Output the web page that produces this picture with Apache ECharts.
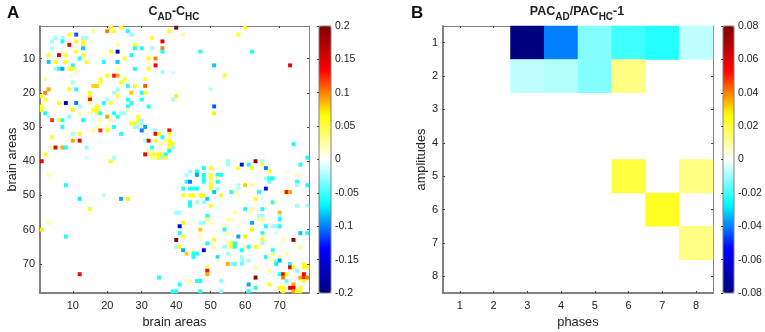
<!DOCTYPE html>
<html><head><meta charset="utf-8">
<script src="https://cdn.jsdelivr.net/npm/echarts@6/dist/echarts.min.js"></script>
<style>html,body{margin:0;padding:0;background:#fff}#c{width:765px;height:332px}</style>
</head><body><div id="c"></div>
<script>
// [column, row, value] for panel A
const cellsA = [
[21,1,.06],[24,1,.06],[40,1,.19],[60,1,.06],
[20,2,.1],[22,2,.06],[16,2,.025],[26,2,-.06],[38,2,.06],
[9,3,.06],[11,3,-.11],[27,3,-.025],[42,3,.025],[58,3,.06],
[5,4,-.025],[7,4,-.025],[13,4,-.025],[14,4,-.025],[33,4,.06],
[4,5,-.025],[7,5,-.06],[11,5,.06],[13,5,.06],[36,5,.14],
[9,6,.14],[13,6,.06],[23,6,.025],[28,6,.06],
[4,7,-.025],[13,7,-.08],[28,7,-.06],[30,7,-.06],[33,7,-.025],[36,7,.1],
[11,8,.06],[21,8,.06],[23,8,-.15],[36,8,-.06],[47,8,-.06],[62,8,-.06],
[3,9,.06],[6,9,.14],[8,9,.06],[13,9,.06],[27,9,-.06],
[12,10,-.06],[25,10,.06],[32,10,.06],[34,10,.1],
[3,11,-.08],[5,11,.06],[8,11,.06],[14,11,.06],[19,11,-.06],[23,11,-.08],[32,11,.02],
[10,12,-.06],[34,12,.14],[51,12,-.08],[73,12,.14],
[5,13,-.025],[6,13,-.06],[7,13,-.09],[9,13,.06],[10,13,.06],[23,13,.02],[28,13,-.06],[32,13,.06],
[11,14,.025],[36,14,-.025],[39,14,-.012],
[20,15,.06],[22,15,.13],[23,15,.09],[54,15,.06],
[2,16,.025],[18,16,.06],[25,16,.06],[31,16,.05],
[10,17,-.025],[18,17,.06],[24,17,.06],[25,17,.025],
[16,18,.08],[17,18,.08],[26,18,-.06],[28,18,.06],[31,18,.11],
[3,19,.09],[9,19,.06],[11,19,-.06],[23,19,-.025],[50,19,-.02],
[2,20,.1],[15,20,.06],[22,20,-.025],[27,20,.08],[30,20,-.06],[31,20,.06],
[1,21,.06],[15,21,.06],[23,21,.06],[40,21,.07],
[2,22,.06],[15,22,.13],[20,22,-.025],[26,22,-.06],[30,22,-.06],[39,22,-.025],
[6,23,.06],[8,23,-.16],[11,23,-.1],[15,23,.025],[19,23,-.06],[21,23,.06],[27,23,-.06],
[1,24,.06],[12,24,-.025],[17,24,.06],[26,24,-.06],[32,24,-.06],[51,24,-.11],
[1,25,.06],[10,25,.07],[16,25,.06],[17,25,.06],[26,25,.025],
[2,26,-.06],[12,26,.025],[15,26,.025],[17,26,.06],[18,26,-.06],[22,26,-.06],[24,26,-.025],[25,26,-.025],[51,26,.07],
[3,27,-.025],[9,27,-.03],[20,27,.09],[23,27,-.06],[29,27,.06],
[4,28,.12],[6,28,.06],[7,28,-.06],[13,28,-.06],[16,28,-.01],[18,28,.025],[21,28,.025],[29,28,.06],[30,28,-.025],
[27,29,.06],[28,29,.06],[30,29,-.025],
[7,30,-.06],[17,30,.025],[20,30,.025],[22,30,-.06],[28,30,-.025],[29,30,-.025],[31,30,-.09],
[16,31,.025],[18,31,.12],[20,31,.06],[30,31,-.1],[34,31,-.025],[38,31,.14],
[10,32,-.025],[12,32,.06],[24,32,-.06],[34,32,.14],[35,32,.06],[38,32,.06],
[4,33,.06],[36,33,-.06],[38,33,.025],
[10,34,.09],[12,34,.14],[31,34,-.025],[32,34,.14],[34,34,.06],[38,34,.06],[37,34,.03],
[38,35,.06],[39,35,.06],[36,35,.03],[74,35,-.06],
[4,36,.025],[5,36,.15],[7,36,.09],[8,36,-.06],[14,36,-.03],[33,36,-.06],[38,36,.06],[39,36,-.025],
[38,37,-.06],[32,37,.03],
[2,38,.06],[31,38,.14],[33,38,.05],[34,38,.06],[35,38,.06],[36,38,.06],[37,38,-.06],
[14,39,-.012],[22,39,-.025],[33,39,.03],[34,39,.03],[35,39,.06],[36,39,-.025],[37,39,.05],[78,39,-.06],
[1,40,.14],[21,40,.06],[63,40,.19],[55,40,-.025],[65,40,-.025],
[59,41,-.13],[61,41,-.06],[65,41,.06],[55,41,-.025],[76,41,-.06],
[48,42,-.06],[50,42,.06],[58,42,.06],[62,42,.06],[66,42,-.1],
[3,44,.025],[44,43,-.025],[46,43,-.06],[67,43,.06],[72,43,.015],
[43,44,-.025],[46,44,-.09],[48,44,-.06],[50,44,.06],[52,44,-.06],[53,44,-.06],[75,44,.02],
[48,45,-.06],[50,45,.06],[52,45,.025],[66,45,-.025],[67,45,-.06],[68,45,-.06],
[43,46,-.06],[44,46,-.1],[48,46,-.06],[50,46,.03],[52,46,-.06],[67,46,-.04],[75,46,-.06],
[8,47,-.06],[50,47,.06],[60,47,.08],[62,47,.025],[58,47,-.02],[75,47,-.025],[78,47,-.06],
[42,48,-.06],[44,48,-.06],[45,48,-.06],[46,48,-.06],[50,48,.06],[52,48,-.025],[58,48,-.02],[66,48,-.13],
[51,49,-.08],[56,49,-.06],[57,49,.025],[64,49,-.06],[71,49,.03],[72,49,.13],[73,49,.09],
[42,50,.06],[44,50,.06],[45,50,.06],[47,50,.06],[48,50,.06],[53,50,.06],[58,50,.02],[19,50,-.02],
[12,51,-.07],[24,51,-.09],[26,51,.07],[49,51,-.08],[63,51,.06],[65,51,-.012],
[44,52,-.06],[46,52,-.025],[48,52,-.03],[68,52,-.06],[69,52,.02],
[44,53,-.06],[50,53,.06],[75,53,-.025],[78,53,-.025],
[15,54,.06],[60,54,-.06],[62,54,.025],[65,54,-.06],
[40,55,-.025],[41,55,-.025],[57,55,.025],[61,55,.025],[70,55,.085],
[49,56,-.06],[64,56,-.025],[65,56,-.025],[70,56,-.025],
[49,57,.04],[55,57,.025],[56,57,.02],[64,57,.03],[65,57,.03],[70,57,-.06],
[3,58,.025],[42,58,.07],[47,58,-.025],[48,58,-.025],[50,58,.02],[62,58,-.09],
[41,59,-.14],[54,59,.02],[66,59,-.06],[68,59,-.025],[69,59,-.025],[70,59,-.06],
[1,60,.07],[47,60,.08],[54,60,-.06],[62,60,.07],
[41,61,-.06],[55,61,.025],[65,61,-.06],[69,61,-.012],[76,61,-.08],[78,61,-.06],
[8,62,-.06],[42,62,.06],[47,62,.025],[58,62,-.09],[60,62,.07],[65,62,.025],
[40,63,.19],[51,63,.06],[65,63,.06],[71,63,.025],[74,63,.19],
[49,64,-.06],[55,64,.025],[56,64,.06],[57,64,-.06],[65,64,-.025],
[40,65,-.025],[41,65,.06],[51,65,.025],[54,65,-.03],[56,65,.06],[57,65,-.06],[60,65,.025],[61,65,-.06],[63,65,.06],[64,65,.025],[76,65,.03],
[42,66,-.09],[45,66,.02],[48,66,-.14],[59,66,-.06],[68,66,-.06],
[43,67,.08],[45,67,-.06],[46,67,-.06],[55,67,-.025],[68,67,.03],[72,67,.025],
[45,68,-.06],[52,68,-.07],[59,68,-.025],[66,68,-.06],[67,68,.025],[70,68,.025],
[52,69,.02],[59,69,-.025],[61,69,-.025],[68,69,.025],[69,69,-.025],[70,69,-.09],
[55,70,.09],[56,70,-.03],[57,70,-.04],[59,70,-.04],[69,70,-.07],[73,70,-.06],[77,70,.06],
[49,71,.04],[63,71,.025],[73,71,.14],[74,71,.06],[77,71,.06],[78,71,.06],
[49,72,.13],[67,72,.03],[75,72,-.03],
[12,73,.14],[49,73,.09],[70,73,-.06],[71,73,.14],[72,73,.06],[77,73,.14],
[35,74,-.06],[63,74,.19],[71,74,.1],[76,74,.09],[77,74,.12],[78,74,.1],
[43,75,.015],[44,75,.025],[46,75,-.06],[47,75,-.06],[53,75,-.03],[72,75,-.04],[77,75,.06],
[41,76,-.06],[61,76,-.09],[67,76,.06],[74,76,.09],
[63,77,-.06],[70,77,.06],[71,77,.06],[73,77,.14],[74,77,.14],[76,77,.06],
[39,78,-.06],[40,78,-.06],[47,78,-.06],[53,78,-.03],[61,78,-.06],[71,78,.06],[74,78,.09],[75,78,.06],[76,78,.06]
];
// [phase, amplitude, value] for panel B
const cellsB = [
[3,1,-.08],[4,1,-.04],[5,1,-.013],[6,1,-.02],[7,1,-.023],[8,1,-.0067],
[3,2,-.0067],[4,2,-.008],[5,2,-.013],[6,2,.013],
[6,5,.02],[8,5,.013],[7,6,.023],[8,7,.013]
];
const areaCount = 78;
const areaLabels = Array.from({length: areaCount}, (_, i) => String(i + 1));
const phaseLabels = ['1','2','3','4','5','6','7','8'];
const ampLabels = ['1','2','3','4','5','6','7','8'];
const jet = ['#00007f','#0000ff','#00ffff','#ffffff','#ffff00','#ff0000','#7f0000'];

const ink = '#222', frame = '#808080', font = 'Liberation Sans';
const tenth = (i, v) => +v % 10 === 0;
function catAxis(data, interval, pos, opts) {
  const main = pos === 'left' || pos === 'bottom';
  return Object.assign({
    type: 'category', data, position: pos, boundaryGap: true,
    axisLine: {show: true, onZero: false, lineStyle: {color: frame, width: main ? 2 : 1}},
    axisTick: {show: true, inside: true, length: 2, alignWithLabel: true, interval, lineStyle: {color: '#444'}},
    axisLabel: {show: main, interval, color: ink, fontFamily: font, fontSize: 11, margin: pos === 'bottom' ? 7 : 5},
    splitLine: {show: false}
  }, opts);
}
function nameOpts(name, gap) {
  return {name, nameLocation: 'middle', nameGap: gap,
    nameTextStyle: {color: ink, fontFamily: font, fontSize: 12.8}};
}
const grids = [
  {left: 40, top: 26, width: 269, height: 267, outerBoundsMode: 'none'},
  {left: 443, top: 26, width: 270, height: 267, outerBoundsMode: 'none'},
  {left: 319, top: 26, width: 12, height: 267, outerBoundsMode: 'none', show: true, borderColor: frame, borderWidth: 1, backgroundColor: 'transparent', z: 6},
  {left: 723, top: 26, width: 11, height: 267, outerBoundsMode: 'none', show: true, borderColor: frame, borderWidth: 1, backgroundColor: 'transparent', z: 6}
];
const xAxes = [
  catAxis(areaLabels, tenth, 'bottom', Object.assign({gridIndex: 0}, nameOpts('brain areas', 23))),
  catAxis(areaLabels, tenth, 'top', {gridIndex: 0}),
  catAxis(phaseLabels, 0, 'bottom', Object.assign({gridIndex: 1}, nameOpts('phases', 23))),
  catAxis(phaseLabels, 0, 'top', {gridIndex: 1}),
  {type: 'value', gridIndex: 2, show: false, min: 0, max: 1},
  {type: 'value', gridIndex: 3, show: false, min: 0, max: 1}
];
function barAxis(grid, lim, step) {
  return {type: 'value', gridIndex: grid, position: 'right', min: -lim, max: lim, interval: step, z: 7,
    axisLine: {show: false}, splitLine: {show: false},
    axisTick: {show: true, inside: true, length: 2, lineStyle: {color: '#444'}},
    axisLabel: {color: ink, fontFamily: font, fontSize: 10.5, margin: 4}};
}
const yAxes = [
  catAxis(areaLabels, tenth, 'left', Object.assign({gridIndex: 0, inverse: true}, nameOpts('brain areas', 19))),
  catAxis(areaLabels, tenth, 'right', {gridIndex: 0, inverse: true}),
  catAxis(ampLabels, 0, 'left', Object.assign({gridIndex: 1, inverse: true}, nameOpts('amplitudes', 13))),
  catAxis(ampLabels, 0, 'right', {gridIndex: 1, inverse: true}),
  barAxis(2, 0.2, 0.05),
  barAxis(3, 0.08, 0.02)
];
function richTitle(text, x) {
  return {text, left: x, top: 5, padding: 0, textAlign: 'center',
    textStyle: {rich: {
      b: {fontFamily: font, fontSize: 12.5, fontWeight: 'bold', color: ink, lineHeight: 14, verticalAlign: 'top'},
      s: {fontFamily: font, fontSize: 10, fontWeight: 'bold', color: ink, lineHeight: 17, verticalAlign: 'bottom'}
    }}};
}
function letter(text, x) {
  return {text, left: x, top: 5, padding: 0, textStyle: {fontFamily: font, fontSize: 17, fontWeight: 'bold', color: '#111'}};
}
const option = {
  animation: false,
  backgroundColor: '#fff',
  title: [
    letter('A', 7), letter('B', 411),
    richTitle('{b|C}{s|AD}{b|-C}{s|HC}', 174),
    richTitle('{b|PAC}{s|AD}{b|/PAC}{s|HC}{b|-1}', 577)
  ],
  grid: grids, xAxis: xAxes, yAxis: yAxes,
  visualMap: [
    {type: 'continuous', seriesIndex: 0, min: -0.2, max: 0.2, calculable: false, show: true, text: null,
     showLabel: false, left: 319, top: 26, itemWidth: 12, itemHeight: 267, padding: 0, inRange: {color: jet}, z: 3},
    {type: 'continuous', seriesIndex: 1, min: -0.08, max: 0.08, calculable: false, show: true, text: null,
     showLabel: false, left: 723, top: 26, itemWidth: 11, itemHeight: 267, padding: 0, inRange: {color: jet}, z: 3}
  ],
  series: [
    {type: 'heatmap', xAxisIndex: 0, yAxisIndex: 0,
     data: cellsA.map(c => [c[0] - 1, c[1] - 1, c[2]]), itemStyle: {borderWidth: 0}, emphasis: {disabled: true}},
    {type: 'heatmap', xAxisIndex: 2, yAxisIndex: 2,
     data: cellsB.map(c => [c[0] - 1, c[1] - 1, c[2]]), itemStyle: {borderWidth: 0}, emphasis: {disabled: true}}
  ]
};
echarts.init(document.getElementById('c'), null, {renderer: 'canvas'}).setOption(option);
</script>
</body></html>
